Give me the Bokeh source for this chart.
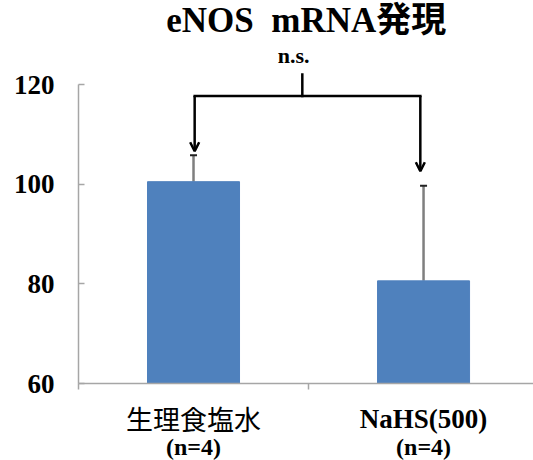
from bokeh.plotting import figure
from bokeh.layouts import column
from bokeh.models import (Range1d, FixedTicker, ColumnDataSource, Whisker, TeeHead,
                          Arrow, OpenHead, Label)
from bokeh.core.properties import value
from bokeh.embed import file_html
from bokeh.resources import INLINE

# --- data -------------------------------------------------------------
groups = ["生理食塩水", "NaHS(500)"]
group_n = ["(n=4)", "(n=4)"]
means = [100.5, 80.6]
errors = [5.3, 19.1]
y_ticks = [60, 80, 100, 120]
title_text = "eNOS\u00a0 mRNA発現"
sig_text = "n.s."

# --- layout constants (data units) -----------------------------------
bracket_y = 117.7
stub_top = 122.0
arrow_tips = [106.6, 102.6]
bracket_x = [0.505, 1.486]
stub_x = 0.973

SERIF = "Liberation Serif"
TITLE_FONT = "'Liberation Serif', 'Noto Sans CJK JP'"
CJK = "Noto Sans CJK JP"
AXIS_GRAY = "#a6a6a6"

xs = [i + 0.5 for i in range(len(groups))]
uppers = [m + e for m, e in zip(means, errors)]
src = ColumnDataSource(dict(x=xs, top=means, upper=uppers))

x_range = Range1d(0, 1.978)

p = figure(width=533, height=398, output_backend="svg", toolbar_location=None,
           x_range=x_range, y_range=Range1d(60, 136.86),
           min_border_left=78, min_border_right=0, min_border_top=0,
           min_border_bottom=15)
p.grid.visible = False
p.outline_line_color = None

# bars
p.vbar(x="x", top="top", bottom=60, width=0.4, source=src,
       fill_color="#4f81bd", line_color="#4f81bd")

# upward error bars
p.add_layout(Whisker(base="x", upper="upper", lower="top", source=src,
                     line_color="#7f7f7f", line_width=2.5,
                     upper_head=TeeHead(size=7, line_color="#222222", line_width=2),
                     lower_head=None))

# y axis
ya = p.yaxis[0]
ya.ticker = FixedTicker(ticks=y_ticks)
ya.bounds = (60, 120)
ya.axis_line_color = AXIS_GRAY
ya.axis_line_width = 1.5
ya.major_tick_line_color = AXIS_GRAY
ya.major_tick_line_width = 1.5
ya.major_tick_in = 6
ya.major_tick_out = 0
ya.minor_tick_line_color = None
ya.major_label_standoff = 24
ya.major_label_text_font = SERIF
ya.major_label_text_font_style = "bold"
ya.major_label_text_font_size = "27px"
ya.major_label_text_color = "black"

# x axis: group boundary ticks only
xa = p.xaxis[0]
xa.ticker = FixedTicker(ticks=[0, 1, 2])
xa.major_label_overrides = {0: "", 1: "", 2: ""}
xa.major_label_standoff = 0
xa.axis_line_color = AXIS_GRAY
xa.axis_line_width = 1.5
xa.major_tick_line_color = AXIS_GRAY
xa.major_tick_line_width = 1.5
xa.major_tick_in = 0
xa.major_tick_out = 6
xa.minor_tick_line_color = None

# comparison bracket with arrows
p.segment(x0=[bracket_x[0], stub_x], y0=[bracket_y, bracket_y],
          x1=[bracket_x[1], stub_x], y1=[bracket_y, stub_top],
          line_color="black", line_width=2.5, line_cap="square")
for bx, tip in zip(bracket_x, arrow_tips):
    p.add_layout(Arrow(x_start=bx, y_start=bracket_y, x_end=bx, y_end=tip,
                       line_color="black", line_width=2.5,
                       end=OpenHead(size=9, line_color="black", line_width=2.5)))

p.add_layout(Label(x=0.935, y=125.8, text=sig_text, text_align="center",
                   text_baseline="alphabetic", text_font=SERIF,
                   text_font_style="bold", text_font_size="22px",
                   text_color="black"))

# title
p.add_layout(Label(x=0.99, y=132.8, text=title_text, text_align="center",
                   text_baseline="alphabetic", text_font=TITLE_FONT,
                   text_font_style="bold", text_font_size="35px",
                   text_color="black"))

# category labels strip under the axis, sharing the x range
lab = figure(width=533, height=62, output_backend="svg", toolbar_location=None,
             x_range=x_range, y_range=Range1d(0, 62),
             x_axis_type=None, y_axis_type=None,
             min_border_left=78, min_border_right=0, min_border_top=0,
             min_border_bottom=0)
lab.grid.visible = False
lab.outline_line_color = None

is_cjk = [any(ord(c) > 0x2e80 for c in g) for g in groups]
name_src = ColumnDataSource(dict(
    x=xs, text=groups,
    font=[CJK if c else SERIF for c in is_cjk],
    style=["normal" if c else "bold" for c in is_cjk]))
lab.text(x="x", y=42, text="text", source=name_src, text_font="font",
         text_font_style="style", text_font_size="27px",
         text_align="center", text_baseline="middle", text_color="black")
lab.text(x=xs, y=[14] * len(xs), text=group_n, text_font=value(SERIF),
         text_font_style="bold", text_font_size="24px",
         text_align="center", text_baseline="middle", text_color="black")

open("out.html", "w").write(file_html(column(p, lab, spacing=0), INLINE))
